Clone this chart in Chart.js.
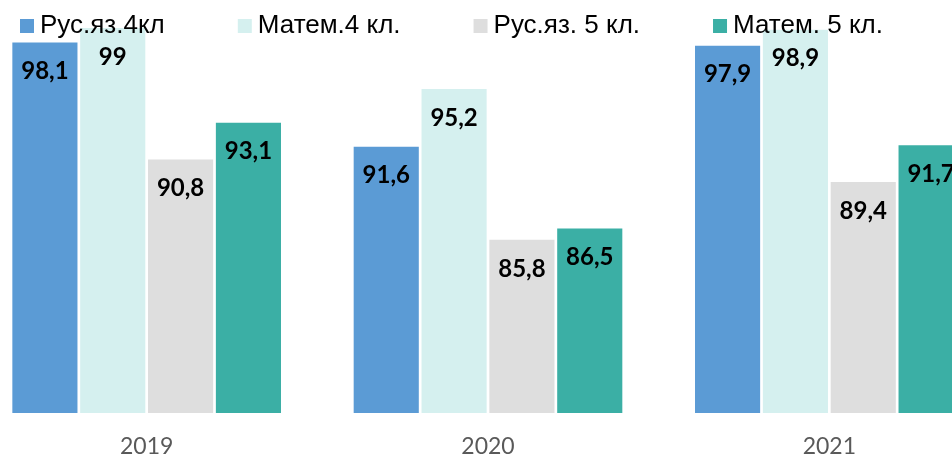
<!DOCTYPE html>
<html><head><meta charset="utf-8">
<script src="https://cdn.jsdelivr.net/npm/chart.js@4"></script>
<style>
html,body{margin:0;padding:0;background:#fff;overflow:hidden;width:952px;height:457px;}
#wrap{position:absolute;left:-24px;top:0;width:1024px;height:482px;}
</style></head><body>
<div id="wrap"><canvas id="c"></canvas></div>
<script>
const categories = ['2019', '2020', '2021'];
const seriesNames = ['Рус.яз.4кл', 'Матем.4 кл.', 'Рус.яз. 5 кл.', 'Матем. 5 кл.'];
const rus4 = [98.1, 91.6, 97.9];
const mat4 = [99, 95.2, 98.9];
const rus5 = [90.8, 85.8, 89.4];
const mat5 = [93.1, 86.5, 91.7];
const colors = ['#5B9BD5', '#D5F0EF', '#DEDEDE', '#3BAFA5'];

const fmt = v => String(v).replace('.', ',');

const labelPlugin = {
  id: 'valueLabels',
  afterDatasetsDraw(chart) {
    const ctx = chart.ctx;
    ctx.save();
    ctx.font = 'bold 24px Lato';
    ctx.fillStyle = '#000';
    ctx.textAlign = 'center';
    ctx.textBaseline = 'middle';
    chart.data.datasets.forEach((ds, i) => {
      chart.getDatasetMeta(i).data.forEach((bar, j) => {
        ctx.fillText(fmt(ds.data[j]), bar.x, bar.y + 29);
      });
    });
    ctx.restore();
  }
};

const legendPlugin = {
  id: 'customLegend',
  afterDraw(chart) {
    const ctx = chart.ctx;
    ctx.save();
    ctx.font = '26px "Liberation Sans"';
    ctx.textBaseline = 'alphabetic';
    ctx.textAlign = 'left';
    let x = 44;
    chart.data.datasets.forEach(ds => {
      ctx.fillStyle = ds.backgroundColor;
      ctx.fillRect(x, 19, 14, 14);
      ctx.fillStyle = '#000';
      ctx.fillText(ds.label, x + 20, 33);
      x += 20 + ctx.measureText(ds.label).width + 73;
    });
    ctx.restore();
  }
};

const values = [rus4, mat4, rus5, mat5];
new Chart(document.getElementById('c'), {
  type: 'bar',
  data: {
    labels: categories,
    datasets: seriesNames.map((n, i) => ({
      label: n,
      data: values[i],
      backgroundColor: colors[i],
      borderWidth: 0,
      categoryPercentage: 0.795,
      barPercentage: 0.96
    }))
  },
  options: {
    responsive: true,
    maintainAspectRatio: false,
    animation: false,
    layout: { padding: { top: 12, bottom: 2, left: 0, right: 0 } },
    plugins: { legend: { display: false }, tooltip: { enabled: false } },
    scales: {
      x: {
        grid: { display: false, drawTicks: false },
        border: { display: false },
        ticks: { color: '#595959', font: { family: 'Lato', size: 23, lineHeight: 1.0 }, padding: 22 }
      },
      y: { display: false, min: 75, max: 100 }
    }
  },
  plugins: [labelPlugin, legendPlugin]
});
</script>
</body></html>
